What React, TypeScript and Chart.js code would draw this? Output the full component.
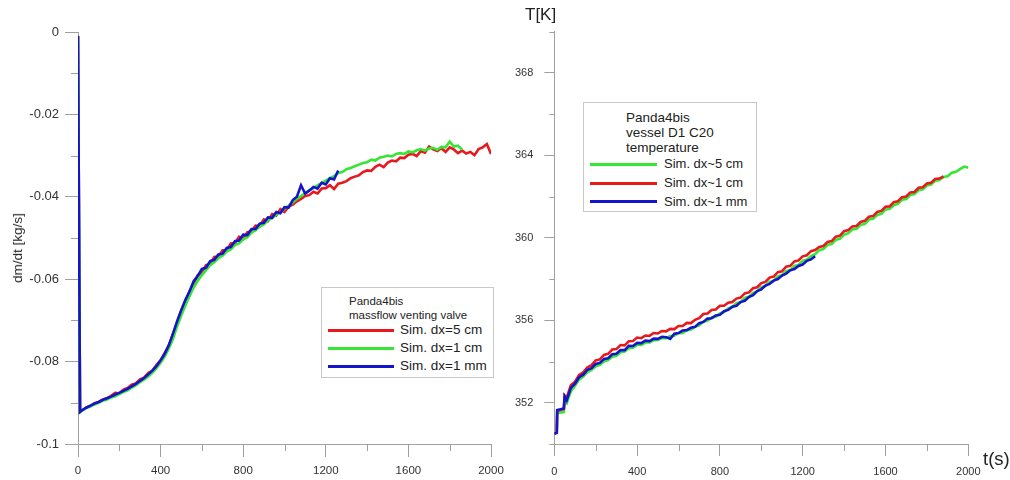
import React, { useEffect, useRef } from "react";
import { Chart, registerables } from "chart.js";

Chart.register(...registerables);

// ---------- LEFT CHART DATA (massflow venting valve) ----------
const T_L = [
  0, 10, 20, 40, 60, 80, 100, 120, 140, 160,
  180, 200, 220, 240, 260, 280, 300, 320, 340, 360,
  380, 400, 420, 440, 460, 480, 500, 520, 540, 560,
  580, 600, 620, 640, 660, 680, 700, 720, 740, 760,
  780, 800, 820, 840, 860, 880, 900, 920, 940, 960,
  980, 1000, 1020, 1040, 1060, 1080, 1100, 1120, 1140, 1160,
  1180, 1200, 1220, 1240, 1260, 1280, 1300, 1320, 1340, 1360,
  1380, 1400, 1420, 1440, 1460, 1480, 1500, 1520, 1540, 1560,
  1580, 1600, 1620, 1640, 1660, 1680, 1700, 1720, 1740, 1760,
  1780, 1800, 1820, 1840, 1860, 1880, 1900, 1920, 1940, 1960,
  1980, 2000,
];

const MF_DX5CM = [
  -0.0010, -0.0922, -0.0918, -0.0911, -0.0908, -0.0901, -0.0898, -0.0892, -0.0889, -0.0883,
  -0.0876, -0.0877, -0.0868, -0.0864, -0.0856, -0.0853, -0.0843, -0.0839, -0.0828, -0.0822,
  -0.0808, -0.0797, -0.0779, -0.0761, -0.0733, -0.0706, -0.0676, -0.0656, -0.0629, -0.0614,
  -0.0590, -0.0584, -0.0566, -0.0563, -0.0546, -0.0545, -0.0530, -0.0530, -0.0513, -0.0512,
  -0.0497, -0.0503, -0.0486, -0.0484, -0.0470, -0.0471, -0.0455, -0.0459, -0.0442, -0.0446,
  -0.0430, -0.0437, -0.0424, -0.0419, -0.0411, -0.0405, -0.0398, -0.0396, -0.0388, -0.0392,
  -0.0380, -0.0379, -0.0372, -0.0381, -0.0368, -0.0366, -0.0362, -0.0355, -0.0351, -0.0348,
  -0.0340, -0.0336, -0.0337, -0.0327, -0.0322, -0.0328, -0.0317, -0.0312, -0.0314, -0.0305,
  -0.0306, -0.0298, -0.0296, -0.0301, -0.0289, -0.0293, -0.0278, -0.0285, -0.0289, -0.0282,
  -0.0291, -0.0280, -0.0285, -0.0294, -0.0288, -0.0295, -0.0291, -0.0299, -0.0284, -0.0280,
  -0.0272, -0.0296,
];

const MF_DX1CM = [
  -0.0010, -0.0922, -0.0919, -0.0913, -0.0909, -0.0904, -0.0900, -0.0895, -0.0892, -0.0887,
  -0.0884, -0.0879, -0.0874, -0.0870, -0.0863, -0.0858, -0.0850, -0.0844, -0.0836, -0.0827,
  -0.0816, -0.0803, -0.0788, -0.0768, -0.0745, -0.0714, -0.0688, -0.0664, -0.0641, -0.0620,
  -0.0604, -0.0590, -0.0578, -0.0566, -0.0559, -0.0549, -0.0543, -0.0533, -0.0528, -0.0517,
  -0.0513, -0.0503, -0.0498, -0.0487, -0.0481, -0.0472, -0.0467, -0.0457, -0.0452, -0.0443,
  -0.0438, -0.0429, -0.0421, -0.0414, -0.0405, -0.0398, -0.0391, -0.0384, -0.0379, -0.0372,
  -0.0366, -0.0361, -0.0355, -0.0350, -0.0342, -0.0340, -0.0333, -0.0330, -0.0326, -0.0322,
  -0.0318, -0.0316, -0.0310, -0.0312, -0.0305, -0.0303, -0.0300, -0.0302, -0.0296, -0.0294,
  -0.0296, -0.0290, -0.0292, -0.0287, -0.0284, -0.0288, -0.0283, -0.0281, -0.0286, -0.0279,
  -0.0280, -0.0266, -0.0278, -0.0276, -0.0285,
];

const MF_DX1MM = [
  -0.0010, -0.0922, -0.0918, -0.0912, -0.0907, -0.0902, -0.0898, -0.0893, -0.0889, -0.0885,
  -0.0880, -0.0876, -0.0871, -0.0866, -0.0860, -0.0854, -0.0847, -0.0840, -0.0831, -0.0822,
  -0.0811, -0.0797, -0.0781, -0.0760, -0.0732, -0.0702, -0.0675, -0.0650, -0.0630, -0.0605,
  -0.0592, -0.0575, -0.0572, -0.0556, -0.0553, -0.0540, -0.0538, -0.0524, -0.0522, -0.0508,
  -0.0506, -0.0492, -0.0493, -0.0478, -0.0478, -0.0465, -0.0463, -0.0450, -0.0451, -0.0437,
  -0.0440, -0.0425, -0.0426, -0.0408, -0.0400, -0.0372, -0.0392, -0.0385, -0.0376, -0.0380,
  -0.0366, -0.0370, -0.0355, -0.0358, -0.0336,
];

// ---------- RIGHT CHART DATA (vessel D1 C20 temperature) ----------
const T_R = [
  0, 12, 14, 46, 50, 60, 80, 100, 120, 140,
  160, 180, 200, 220, 240, 260, 280, 300, 320, 340,
  360, 380, 400, 420, 440, 460, 480, 500, 520, 540,
  560, 580, 600, 620, 640, 660, 680, 700, 720, 740,
  760, 780, 800, 820, 840, 860, 880, 900, 920, 940,
  960, 980, 1000, 1020, 1040, 1060, 1080, 1100, 1120, 1140,
  1160, 1180, 1200, 1220, 1240, 1260, 1280, 1300, 1320, 1340,
  1360, 1380, 1400, 1420, 1440, 1460, 1480, 1500, 1520, 1540,
  1560, 1580, 1600, 1620, 1640, 1660, 1680, 1700, 1720, 1740,
  1760, 1780, 1800, 1820, 1840, 1860, 1880, 1900, 1920, 1940,
  1960, 1980, 2000,
];

const TEMP_DX5CM = [
  350.5, 350.55, 351.5, 351.55, 352.1, 351.98, 352.55, 352.82, 353.12, 353.27,
  353.49, 353.59, 353.77, 353.84, 354.0, 354.07, 354.23, 354.28, 354.45, 354.48,
  354.65, 354.67, 354.8, 354.8, 354.92, 354.92, 355.03, 355.04, 355.14, 355.13,
  355.24, 355.25, 355.37, 355.38, 355.52, 355.55, 355.68, 355.75, 355.93, 355.97,
  356.13, 356.17, 356.33, 356.4, 356.58, 356.64, 356.83, 356.88, 357.08, 357.14,
  357.33, 357.4, 357.6, 357.66, 357.86, 357.92, 358.13, 358.18, 358.38, 358.44,
  358.63, 358.68, 358.88, 358.93, 359.11, 359.2, 359.4, 359.45, 359.66, 359.7,
  359.9, 359.95, 360.15, 360.22, 360.4, 360.43, 360.63, 360.67, 360.88, 360.92,
  361.1, 361.16, 361.36, 361.4, 361.58, 361.64, 361.84, 361.88, 362.07, 362.12,
  362.3, 362.35, 362.53, 362.58, 362.76, 362.8, 362.95, 362.98, 363.15, 363.2,
  363.33, 363.45, 363.4,
];

const TEMP_DX1CM = [
  350.5, 350.55, 351.6, 351.7, 352.35, 352.25, 352.85, 353.02, 353.35, 353.48,
  353.72, 353.82, 354.05, 354.1, 354.32, 354.37, 354.58, 354.6, 354.8, 354.78,
  354.98, 354.99, 355.16, 355.13, 355.26, 355.24, 355.38, 355.36, 355.48, 355.46,
  355.58, 355.57, 355.72, 355.72, 355.87, 355.86, 356.02, 356.1, 356.3, 356.33,
  356.5, 356.52, 356.7, 356.7, 356.85, 356.88, 357.05, 357.1, 357.3, 357.35,
  357.55, 357.6, 357.8, 357.86, 358.07, 358.12, 358.33, 358.37, 358.6, 358.64,
  358.85, 358.9, 359.1, 359.15, 359.35, 359.4, 359.55, 359.6, 359.8, 359.84,
  360.05, 360.1, 360.32, 360.37, 360.55, 360.57, 360.77, 360.82, 361.02, 361.05,
  361.25, 361.3, 361.5, 361.52, 361.72, 361.77, 361.97, 362.0, 362.2, 362.22,
  362.42, 362.45, 362.63, 362.67, 362.85, 362.87, 362.97,
];

const TEMP_DX1MM = [
  350.5, 350.55, 351.65, 351.72, 352.3, 352.12, 352.72, 352.93, 353.24, 353.36,
  353.6, 353.68, 353.88, 353.93, 354.12, 354.16, 354.35, 354.38, 354.56, 354.55,
  354.76, 354.75, 354.9, 354.89, 355.01, 354.99, 355.11, 355.1, 355.2, 355.18,
  355.1, 355.35, 355.38, 355.5, 355.52, 355.64, 355.68, 355.86, 355.92, 356.08,
  356.1, 356.23, 356.26, 356.44, 356.5, 356.66, 356.7, 356.88, 356.94, 357.12,
  357.22, 357.41, 357.5, 357.68, 357.76, 357.92, 358.0, 358.17, 358.26, 358.42,
  358.48, 358.63, 358.7, 358.88, 358.95, 359.1,
];

// ---------- TICKS ----------
const X_MAJOR_STEP = 400;
const X_MINOR = [200, 600, 1000, 1400, 1800];
const LEFT_Y_MINOR = [-0.01, -0.03, -0.05, -0.07, -0.09];
const RIGHT_Y_MAJOR = [352, 356, 360, 364, 368];
const RIGHT_Y_MINOR = [350, 354, 358, 362, 366, 370];

// ---------- STYLE ----------
const RED = "#e8191d";
const GREEN = "#35e635";
const BLUE = "#1414cc";
const AXIS = "#a0a0a0";
const TXT = "#333333";
const FONT = "'Liberation Sans', Arial, sans-serif";

const pts = (t: number[], v: number[]) => v.map((y, i) => ({ x: t[i], y }));

const minorTicksPlugin = {
  id: "minorTicks",
  afterDraw(chart: any, _args: any, opts: any) {
    const ctx = chart.ctx;
    const xs = chart.scales.x;
    const ys = chart.scales.y;
    ctx.save();
    ctx.strokeStyle = opts.color;
    ctx.lineWidth = 1;
    for (const v of opts.x) {
      const px = Math.round(xs.getPixelForValue(v)) + 0.5;
      ctx.beginPath();
      ctx.moveTo(px, xs.top);
      ctx.lineTo(px, xs.top + opts.xLen);
      ctx.stroke();
    }
    for (const v of opts.y) {
      const py = Math.round(ys.getPixelForValue(v)) + 0.5;
      ctx.beginPath();
      ctx.moveTo(ys.right - opts.yLen, py);
      ctx.lineTo(ys.right, py);
      ctx.stroke();
    }
    ctx.restore();
  },
};

function ds(label: string, t: number[], v: number[], color: string, order: number) {
  return {
    label,
    data: pts(t, v),
    borderColor: color,
    backgroundColor: color,
    borderWidth: 2.6,
    pointRadius: 0,
    tension: 0,
    fill: false,
    order,
  };
}

const xTickLabel = (v: any) => String(v);

function LeftChart() {
  const ref = useRef<HTMLCanvasElement>(null);
  useEffect(() => {
    const chart = new Chart(ref.current as HTMLCanvasElement, {
      type: "line",
      data: {
        datasets: [
          ds("Sim. dx=5 cm", T_L, MF_DX5CM, RED, 2),
          ds("Sim. dx=1 cm", T_L, MF_DX1CM, GREEN, 1),
          ds("Sim. dx=1 mm", T_L, MF_DX1MM, BLUE, 0),
        ],
      },
      plugins: [minorTicksPlugin],
      options: {
        animation: false,
        responsive: false,
        devicePixelRatio: 1,
        layout: { padding: { left: 0, top: 32, right: 29, bottom: 0 } },
        plugins: {
          legend: { display: false },
          tooltip: { enabled: false },
          minorTicks: { x: X_MINOR, y: LEFT_Y_MINOR, xLen: 7, yLen: 7, color: AXIS },
        } as any,
        scales: {
          x: {
            type: "linear",
            min: 0,
            max: 2000,
            ticks: {
              stepSize: X_MAJOR_STEP,
              color: TXT,
              font: { family: FONT, size: 11.5 },
              padding: 7,
              maxRotation: 0,
              autoSkip: false,
              callback: xTickLabel,
            },
            grid: { drawOnChartArea: false, drawTicks: true, tickLength: 13, color: AXIS },
            border: { display: true, color: AXIS },
            afterFit: (s: any) => {
              s.height = 36;
              s.paddingLeft = 0;
              s.paddingRight = 0;
            },
          },
          y: {
            type: "linear",
            min: -0.1,
            max: 0,
            ticks: {
              stepSize: 0.02,
              color: TXT,
              font: { family: FONT, size: 13 },
              padding: 6,
              callback: (v: any) => String(Math.round(Number(v) * 100) / 100),
            },
            grid: { drawOnChartArea: false, drawTicks: true, tickLength: 13, color: AXIS },
            border: { display: true, color: AXIS },
            afterFit: (s: any) => {
              s.width = 78;
              s.paddingTop = 0;
              s.paddingBottom = 0;
            },
          },
        },
      } as any,
    });
    return () => chart.destroy();
  }, []);
  return <canvas ref={ref} width={520} height={480} style={{ position: "absolute", left: 0, top: 0 }} />;
}

function RightChart() {
  const ref = useRef<HTMLCanvasElement>(null);
  useEffect(() => {
    const chart = new Chart(ref.current as HTMLCanvasElement, {
      type: "line",
      data: {
        datasets: [
          ds("Sim. dx~5 cm", T_R, TEMP_DX5CM, GREEN, 2),
          ds("Sim. dx~1 cm", T_R, TEMP_DX1CM, RED, 1),
          ds("Sim. dx~1 mm", T_R, TEMP_DX1MM, BLUE, 0),
        ],
      },
      plugins: [minorTicksPlugin],
      options: {
        animation: false,
        responsive: false,
        devicePixelRatio: 1,
        layout: { padding: { left: 0, top: 31.5, right: 41.7, bottom: 0 } },
        plugins: {
          legend: { display: false },
          tooltip: { enabled: false },
          minorTicks: { x: X_MINOR, y: RIGHT_Y_MINOR, xLen: 7, yLen: 5, color: AXIS },
        } as any,
        scales: {
          x: {
            type: "linear",
            min: 0,
            max: 2000,
            ticks: {
              stepSize: X_MAJOR_STEP,
              color: TXT,
              font: { family: FONT, size: 11 },
              padding: 9,
              maxRotation: 0,
              autoSkip: false,
              callback: xTickLabel,
            },
            grid: { drawOnChartArea: false, drawTicks: true, tickLength: 12, color: AXIS },
            border: { display: true, color: AXIS },
            afterFit: (s: any) => {
              s.height = 36;
              s.paddingLeft = 0;
              s.paddingRight = 0;
            },
          },
          y: {
            type: "linear",
            min: 350,
            max: 370,
            afterBuildTicks: (s: any) => {
              s.ticks = RIGHT_Y_MAJOR.map((v) => ({ value: v }));
            },
            ticks: {
              color: TXT,
              font: { family: FONT, size: 11 },
              padding: 11,
              callback: (v: any) => String(v),
            },
            grid: { drawOnChartArea: false, drawTicks: true, tickLength: 10, color: AXIS },
            border: { display: true, color: AXIS },
            afterFit: (s: any) => {
              s.width = 54.3;
              s.paddingTop = 0;
              s.paddingBottom = 0;
            },
          },
        },
      } as any,
    });
    return () => chart.destroy();
  }, []);
  return <canvas ref={ref} width={510} height={480} style={{ position: "absolute", left: 0, top: 0 }} />;
}

const abs = (o: React.CSSProperties): React.CSSProperties => ({ position: "absolute", whiteSpace: "nowrap", ...o });

function LegendRow({ top, color, text, lineLeft, lineW, textLeft, size }: any) {
  return (
    <>
      <div style={abs({ left: lineLeft, top: top - 1.5, width: lineW, height: 3, background: color })} />
      <div style={abs({ left: textLeft, top: top - 8, lineHeight: "16px", fontSize: size, color: "#222" })}>{text}</div>
    </>
  );
}

export default function App() {
  return (
    <div
      style={{
        position: "fixed",
        left: 0,
        top: 0,
        width: 1010,
        height: 480,
        background: "#fff",
        fontFamily: FONT,
        overflow: "hidden",
      }}
    >
      <div style={abs({ left: 500, top: 0, width: 510, height: 480 })}>
        <RightChart />
      </div>
      <div style={abs({ left: 0, top: 0, width: 520, height: 480 })}>
        <LeftChart />
      </div>

      {/* axis titles */}
      <div
        style={abs({
          left: 17.5,
          top: 248,
          fontSize: 13.5,
          lineHeight: "16px",
          color: "#222",
          transform: "translate(-50%, -50%) rotate(-90deg)",
        })}
      >
        dm/dt [kg/s]
      </div>
      <div style={abs({ left: 525, top: 6, fontSize: 17, lineHeight: "17px", color: "#222" })}>T[K]</div>
      <div style={abs({ left: 983, top: 448.5, fontSize: 18.5, lineHeight: "19px", color: "#222" })}>t(s)</div>

      {/* left legend */}
      <div style={abs({ left: 321, top: 287, width: 171, height: 89, border: "1px solid #c8c8c8", background: "#fff" })}>
        <div style={abs({ left: 27, top: 13 - 7, lineHeight: "14px", fontSize: 11.5, color: "#222" })}>Panda4bis</div>
        <div style={abs({ left: 27, top: 27.3 - 7, lineHeight: "14px", fontSize: 11.5, color: "#222" })}>
          massflow venting valve
        </div>
        <LegendRow top={42.3} color={RED} text="Sim. dx=5 cm" lineLeft={6} lineW={66} textLeft={78} size={13.5} />
        <LegendRow top={60.3} color={GREEN} text="Sim. dx=1 cm" lineLeft={6} lineW={66} textLeft={78} size={13.5} />
        <LegendRow top={78.3} color={BLUE} text="Sim. dx=1 mm" lineLeft={6} lineW={66} textLeft={78} size={13.5} />
      </div>

      {/* right legend */}
      <div style={abs({ left: 583, top: 102, width: 172, height: 108, border: "1px solid #c8c8c8", background: "#fff" })}>
        <div style={abs({ left: 42, top: 14.7 - 8, lineHeight: "16px", fontSize: 13.5, color: "#222" })}>Panda4bis</div>
        <div style={abs({ left: 42, top: 30 - 8, lineHeight: "16px", fontSize: 13.5, color: "#222" })}>vessel D1 C20</div>
        <div style={abs({ left: 42, top: 45 - 8, lineHeight: "16px", fontSize: 13.5, color: "#222" })}>temperature</div>
        <LegendRow top={61.3} color={GREEN} text="Sim. dx~5 cm" lineLeft={6} lineW={67} textLeft={80} size={13} />
        <LegendRow top={80} color={RED} text="Sim. dx~1 cm" lineLeft={6} lineW={67} textLeft={80} size={13} />
        <LegendRow top={98.7} color={BLUE} text="Sim. dx~1 mm" lineLeft={6} lineW={67} textLeft={80} size={13} />
      </div>
    </div>
  );
}
